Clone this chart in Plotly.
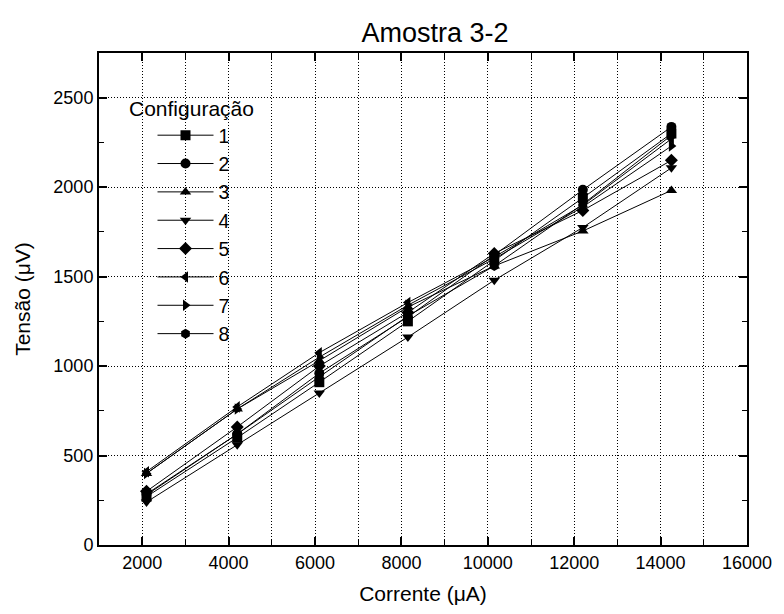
import plotly.graph_objects as go

corrente = [2100, 4200, 6100, 8150, 10150, 12200, 14250]

series_names = ["1", "2", "3", "4", "5", "6", "7", "8"]
tensao_1 = [270, 600, 910, 1250, 1590, 1940, 2300]
tensao_2 = [285, 620, 960, 1275, 1620, 1985, 2337]
tensao_3 = [400, 760, 1030, 1330, 1560, 1755, 1982]
tensao_4 = [240, 560, 850, 1162, 1480, 1775, 2108]
tensao_5 = [300, 660, 1000, 1300, 1630, 1870, 2150]
tensao_6 = [410, 772, 1075, 1355, 1610, 1900, 2270]
tensao_7 = [400, 760, 1050, 1340, 1600, 1890, 2230]
tensao_8 = [280, 620, 940, 1280, 1560, 1905, 2290]
all_series = [tensao_1, tensao_2, tensao_3, tensao_4, tensao_5, tensao_6, tensao_7, tensao_8]
symbols = ["square", "circle", "triangle-up", "triangle-down", "diamond",
           "triangle-left", "triangle-right", "hexagon"]

fig = go.Figure()
for name, vals, sym in zip(series_names, all_series, symbols):
    fig.add_trace(go.Scatter(
        x=corrente, y=vals, name=name, mode="lines+markers",
        line=dict(color="black", width=1),
        marker=dict(symbol=sym, size=10, color="black", line=dict(width=0)),
    ))

font = "Liberation Sans, Arial, sans-serif"
grid_dash = "1px,2px"
fig.update_layout(
    width=784, height=614,
    margin=dict(l=99, r=31, t=53, b=69),
    paper_bgcolor="white", plot_bgcolor="white",
    font=dict(family=font, color="black", size=18),
    title=dict(text="Amostra 3-2", x=0.555, xanchor="center",
               y=1 - 33 / 614, yanchor="middle", yref="container",
               font=dict(size=27, family=font, color="black")),
    showlegend=True,
    legend=dict(
        font=dict(size=19.5), x=(153 - 99) / 654, xanchor="left",
        y=(545 - 116) / 492, yanchor="top",
        bgcolor="rgba(0,0,0,0)", tracegroupgap=0, itemwidth=56,
    ),
    annotations=[dict(text="Configuração", xref="paper", yref="paper",
                      x=(127 - 99) / 654, y=(545 - 108) / 492,
                      xanchor="left", yanchor="middle", showarrow=False,
                      font=dict(size=21, family=font, color="black"))],
    xaxis=dict(
        range=[1000, 16000], dtick=2000, tick0=0, tickformat="d",
        showline=True, linecolor="black", linewidth=2, mirror="ticks",
        ticks="inside", ticklen=8, tickwidth=2, tickcolor="black",
        showgrid=True, gridcolor="black", griddash=grid_dash, gridwidth=1,
        zeroline=False,
        minor=dict(dtick=1000, tick0=0, ticks="inside", ticklen=6, tickwidth=1,
                   tickcolor="black", showgrid=True, gridcolor="black",
                   griddash=grid_dash, gridwidth=1),
        title=dict(text="Corrente (μA)", font=dict(size=21), standoff=15),
        tickfont=dict(size=18),
    ),
    yaxis=dict(
        range=[0, 2750], dtick=500, tick0=0, tickformat="d",
        showline=True, linecolor="black", linewidth=2, mirror="ticks",
        ticks="inside", ticklen=8, tickwidth=2, tickcolor="black",
        showgrid=True, gridcolor="black", griddash=grid_dash, gridwidth=1,
        zeroline=False,
        minor=dict(dtick=250, tick0=0, ticks="inside", ticklen=5, tickwidth=1,
                   tickcolor="black", showgrid=False),
        title=dict(text="Tensão (μV)", font=dict(size=21), standoff=17),
        tickfont=dict(size=18),
    ),
)

fig.write_html("out.html")
